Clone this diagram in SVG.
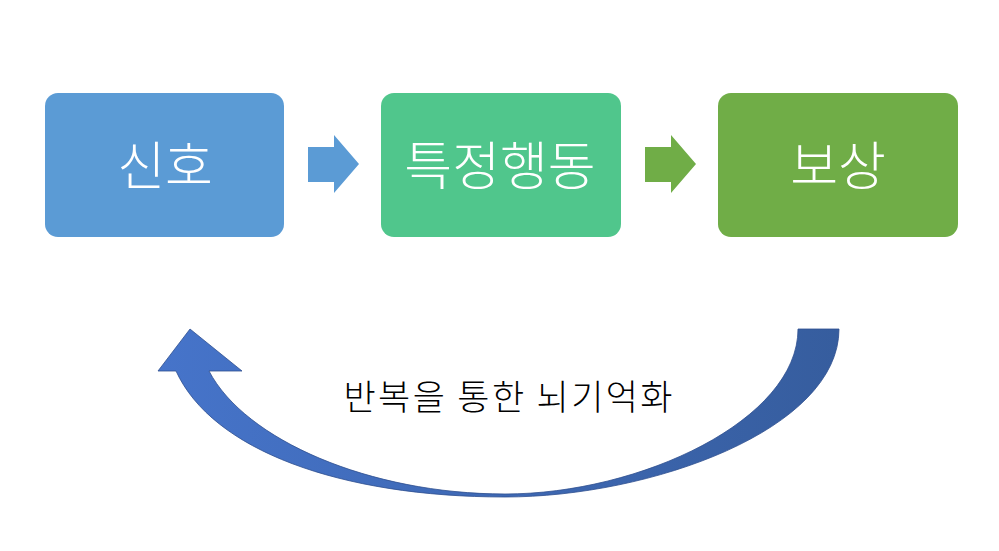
<svg xmlns="http://www.w3.org/2000/svg" width="999" height="551" viewBox="0 0 999 551">
<style>
.box-text{font-family:"Noto Sans CJK KR","Noto Sans",sans-serif;font-size:52px;font-weight:300;fill:#fff;text-anchor:middle;dominant-baseline:central}
.label{font-family:"Noto Sans CJK KR","Noto Sans",sans-serif;font-size:35px;font-weight:300;fill:#000;text-anchor:middle}
</style>
<defs>
<linearGradient id="curveGrad" x1="0" y1="0" x2="1" y2="0">
<stop offset="0" stop-color="#4674CA"/>
<stop offset="1" stop-color="#365D9E"/>
</linearGradient>
</defs>
<rect width="999" height="551" fill="#fff"/>
<g id="node-signal">
<rect x="45" y="93" width="239" height="144" rx="13" fill="#5B9BD5"/>
<text class="box-text" x="165" y="162">신호</text>
</g>
<g id="node-behavior">
<rect x="381" y="93" width="240" height="144" rx="13" fill="#50C68C"/>
<text class="box-text" x="500" y="162">특정행동</text>
</g>
<g id="node-reward">
<rect x="718" y="93" width="240" height="144" rx="13" fill="#70AD47"/>
<text class="box-text" x="838" y="162">보상</text>
</g>
<g id="connectors">
<polygon points="308,147 334,147 334,135 359,164 334,193 334,182 308,182" fill="#5B9BD5"/>
<polygon points="645,147 671,147 671,135 696,164 671,193 671,182 645,182" fill="#70AD47"/>
<path d="M839,329 C839,430 650,497 505,497 C340,497 212,450 176,371 L158,371 L190,329 L242,371 L209,371 C245,440 370,494 505,494 C640,494 798,420 798,329 Z" fill="url(#curveGrad)" stroke="#2F4F8F" stroke-width="0.8"/>
</g>
<text class="label" x="508" y="410" textLength="329" lengthAdjust="spacing">반복을 통한 뇌기억화</text>
</svg>
